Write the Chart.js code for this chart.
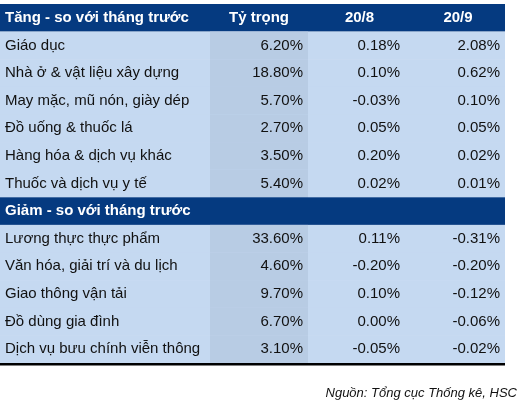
<!DOCTYPE html>
<html>
<head>
<meta charset="utf-8">
<script src="https://cdn.jsdelivr.net/npm/chart.js@4"></script>
<style>
  html, body { margin: 0; padding: 0; background: #fff; }
  #wrap { width: 528px; height: 404px; }
</style>
</head>
<body>
<div id="wrap"><canvas id="table"></canvas></div>
<script>
const columnHeads = ["Tỷ trọng", "20/8", "20/9"];
const upTitle = "Tăng - so với tháng trước";
const downTitle = "Giảm - so với tháng trước";
const upLabels = ["Giáo dục", "Nhà ở & vật liệu xây dựng", "May mặc, mũ nón, giày dép",
  "Đồ uống & thuốc lá", "Hàng hóa & dịch vụ khác", "Thuốc và dịch vụ y tế"];
const upWeight = [6.20, 18.80, 5.70, 2.70, 3.50, 5.40];
const upAug = [0.18, 0.10, -0.03, 0.05, 0.20, 0.02];
const upSep = [2.08, 0.62, 0.10, 0.05, 0.02, 0.01];
const downLabels = ["Lương thực thực phẩm", "Văn hóa, giải trí và du lịch", "Giao thông vận tải",
  "Đồ dùng gia đình", "Dịch vụ bưu chính viễn thông"];
const downWeight = [33.60, 4.60, 9.70, 6.70, 3.10];
const downAug = [0.11, -0.20, 0.10, 0.00, -0.05];
const downSep = [-0.31, -0.20, -0.12, -0.06, -0.02];
const source = "Nguồn: Tổng cục Thống kê, HSC";

// rows: header, up rows, header, down rows
const rows = [];
rows.push({ head: upTitle, cols: columnHeads });
upLabels.forEach((l, i) => rows.push({ label: l, vals: [upWeight[i], upAug[i], upSep[i]] }));
rows.push({ head: downTitle, cols: [] });
downLabels.forEach((l, i) => rows.push({ label: l, vals: [downWeight[i], downAug[i], downSep[i]] }));
const rowKeys = rows.map((r, i) => "r" + i);

const edges = [0, 210, 308, 405, 505];

const tablePlugin = {
  id: 'tablePlugin',
  afterDraw(chart) {
    const ctx = chart.ctx;
    const y = chart.scales.y, x = chart.scales.x;
    const h = (y.bottom - y.top) / rows.length;
    const px = v => x.getPixelForValue(v);
    ctx.save();
    ctx.textBaseline = 'middle';
    rows.forEach((r, i) => {
      const cy = y.getPixelForValue(i);
      const top = cy - h / 2;
      if (r.head) {
        ctx.fillStyle = '#053a80';
        ctx.fillRect(px(0), top, px(505) - px(0), h);
        ctx.fillStyle = '#fff';
        ctx.font = 'bold 15px "Liberation Sans", Arial';
        ctx.textAlign = 'left';
        ctx.fillText(r.head, px(0) + 5, cy);
        r.cols.forEach((c, j) => {
          ctx.textAlign = 'center';
          ctx.fillText(c, (px(edges[j + 1]) + px(edges[j + 2])) / 2 + (j ? 3 : 0), cy);
        });
      } else {
        ctx.fillStyle = '#c5d9f1';
        ctx.fillRect(px(0), top, px(505) - px(0), h + 0.5);
        ctx.fillStyle = '#b8cce4';
        ctx.fillRect(px(210), top, px(308) - px(210), h + 0.5);
        ctx.fillStyle = '#111';
        ctx.font = '15px "Liberation Sans", Arial';
        ctx.textAlign = 'left';
        ctx.fillText(r.label, px(0) + 5, cy);
        ctx.textAlign = 'right';
        r.vals.forEach((v, j) => ctx.fillText(v.toFixed(2) + '%', px(edges[j + 2]) - 5, cy));
      }
    });
    ctx.fillStyle = '#000';
    ctx.fillRect(px(0), y.bottom, px(505) - px(0), 2.5);
    ctx.font = 'italic 13px "Liberation Sans", Arial';
    ctx.textAlign = 'right';
    ctx.fillStyle = '#111';
    ctx.fillText(source, 517, 393);
    ctx.restore();
  }
};

new Chart(document.getElementById('table'), {
  type: 'bar',
  data: { labels: rowKeys, datasets: [{ data: [] }] },
  plugins: [tablePlugin],
  options: {
    indexAxis: 'y',
    responsive: true,
    maintainAspectRatio: false,
    animation: false,
    layout: { padding: { top: 4, bottom: 41, left: 0, right: 23 } },
    plugins: { legend: { display: false }, tooltip: { enabled: false } },
    scales: {
      x: { type: 'linear', min: 0, max: 505, display: false },
      y: { type: 'category', display: false, offset: true }
    }
  }
});
</script>
</body>
</html>
